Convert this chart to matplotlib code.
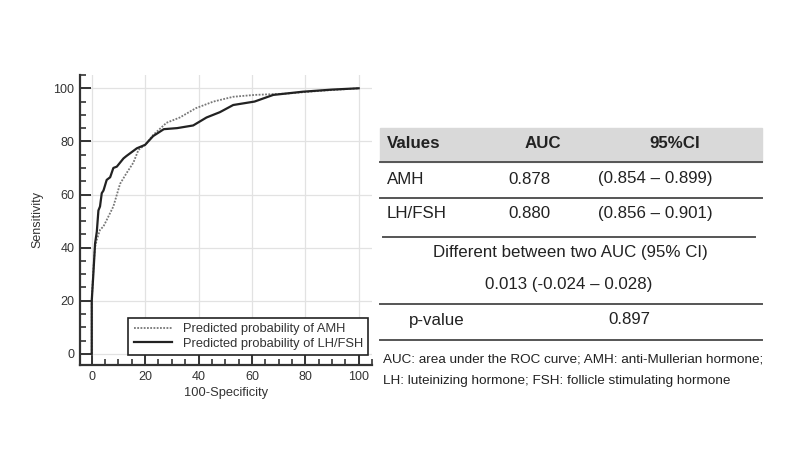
import matplotlib
matplotlib.use("Agg")
import matplotlib.pyplot as plt
from matplotlib.lines import Line2D
from matplotlib.patches import Rectangle
from matplotlib.ticker import MultipleLocator

plt.rcParams['font.family'] = ['Liberation Sans', 'DejaVu Sans']

# ROC curves (100-Specificity, Sensitivity)
amh_x = [0, 0, 0.6, 1.2, 1.9, 3.1, 4.4, 5.6, 8.1, 10.6, 13, 15.6, 17.5, 20, 23, 28, 33,
         39, 45.6, 53, 61, 73, 85, 100]
amh_y = [0, 20, 31.6, 40, 43, 46.7, 48, 50.4, 55.5, 64, 68, 72, 76.8, 78.7, 82.4, 87, 89,
         92.5, 95, 96.8, 97.5, 98, 99, 100]
lhfsh_x = [0, 0, 0.6, 1.25, 1.9, 2.5, 3.1, 3.75, 4.4, 5.6, 6.9, 8.1, 9.4, 11.9, 13, 16.9, 20,
           23, 27, 32, 38, 43, 48, 53, 61, 68, 79, 90, 100]
lhfsh_y = [0, 20, 30, 41.6, 46, 54, 55.5, 60.5, 61.5, 65.5, 66.5, 70, 70.5, 73.6, 74.5, 77.4,
           78.7, 82, 84.6, 85, 86, 89, 91, 93.7, 95, 97.5, 98.7, 99.5, 100]

# table content
header = ["Values", "AUC", "95%CI"]
row_names = ["AMH", "LH/FSH"]
row_auc = ["0.878", "0.880"]
row_ci = ["(0.854 \u2013 0.899)", "(0.856 \u2013 0.901)"]
diff_title = "Different between two AUC (95% CI)"
diff_value = "0.013 (-0.024 \u2013 0.028)"
p_label = "p-value"
p_value = "0.897"
footnote = ["AUC: area under the ROC curve; AMH: anti-Mullerian hormone;",
            "LH: luteinizing hormone; FSH: follicle stimulating hormone"]

W, H = 800, 450
fig = plt.figure(figsize=(8, 4.5), dpi=100)

def fx(px):
    return px / W

def fy(py):
    return 1 - py / H

# ---- ROC plot ----
ax = fig.add_axes([fx(80), fy(365), fx(372) - fx(80), fy(75) - fy(365)])
ax.plot(amh_x, amh_y, color='#777777', lw=1.3, ls=(0, (1, 0.8)),
        label='Predicted probability of AMH')
ax.plot(lhfsh_x, lhfsh_y, color='#222222', lw=1.6,
        label='Predicted probability of LH/FSH')
ax.set_xlim(-4.4, 105)
ax.set_ylim(-4.2, 105)
ax.xaxis.set_minor_locator(MultipleLocator(5))
ax.yaxis.set_minor_locator(MultipleLocator(5))
ax.set_xticks(range(0, 101, 20))
ax.set_yticks(range(0, 101, 20))
ax.grid(True, which='major', color='#e2e2e2', lw=0.9)
ax.set_axisbelow(True)
for s in ['top', 'right']:
    ax.spines[s].set_visible(False)
for s in ['left', 'bottom']:
    ax.spines[s].set_linewidth(1.6)
    ax.spines[s].set_color('#333333')
ax.tick_params(which='major', direction='in', length=8, width=1.4, color='#333333',
               labelsize=9, labelcolor='#333333', pad=4)
ax.tick_params(which='minor', direction='in', length=4.5, width=1.2, color='#333333')
ax.set_xlabel('100-Specificity', fontsize=9.3, color='#333333', labelpad=3)
ax.set_ylabel('Sensitivity', fontsize=9, color='#333333', labelpad=7)
leg = ax.legend(loc='lower right', bbox_to_anchor=(fx(368), fy(355)),
                bbox_transform=fig.transFigure, borderaxespad=0, fontsize=9.3,
                fancybox=False, framealpha=1, edgecolor='#222222', handlelength=3.0,
                borderpad=0.4, labelspacing=0.2)
leg.get_frame().set_linewidth(1.2)
for t in leg.get_texts():
    t.set_color('#333333')

# ---- table ----
tc = '#222222'
fig.patches.append(Rectangle((fx(380), fy(162)), fx(762) - fx(380), fy(128) - fy(162),
                             transform=fig.transFigure, color='#d9d9d9', zorder=0))

def hline(py, x0=380, x1=762):
    fig.add_artist(Line2D([fx(x0), fx(x1)], [fy(py), fy(py)], color='#555555', lw=1.4))

for py in [162, 198, 304, 340]:
    hline(py)
hline(237, 383, 755)

fs = 12.2
fig.text(fx(387), fy(143), header[0], fontsize=fs, weight='bold', color=tc, va='center')
fig.text(fx(543), fy(143), header[1], fontsize=fs, weight='bold', color=tc, va='center', ha='center')
fig.text(fx(675), fy(143), header[2], fontsize=fs, weight='bold', color=tc, va='center', ha='center')
for i, py in enumerate([179, 214]):
    fig.text(fx(387), fy(py), row_names[i], fontsize=fs, color=tc, va='center')
    fig.text(fx(529), fy(py), row_auc[i], fontsize=fs, color=tc, va='center', ha='center')
    fig.text(fx(655), fy(py), row_ci[i], fontsize=fs, color=tc, va='center', ha='center')
fig.text(fx(570), fy(253), diff_title, fontsize=fs, color=tc, va='center', ha='center')
fig.text(fx(569), fy(285), diff_value, fontsize=fs, color=tc, va='center', ha='center')
fig.text(fx(437), fy(320), p_label, fontsize=fs, color=tc, va='center', ha='center')
fig.text(fx(629), fy(320), p_value, fontsize=fs, color=tc, va='center', ha='center')
fig.text(fx(383), fy(360), footnote[0], fontsize=9.7, color=tc, va='center')
fig.text(fx(383), fy(381), footnote[1], fontsize=9.7, color=tc, va='center')

fig.savefig('out.png', dpi=100)
